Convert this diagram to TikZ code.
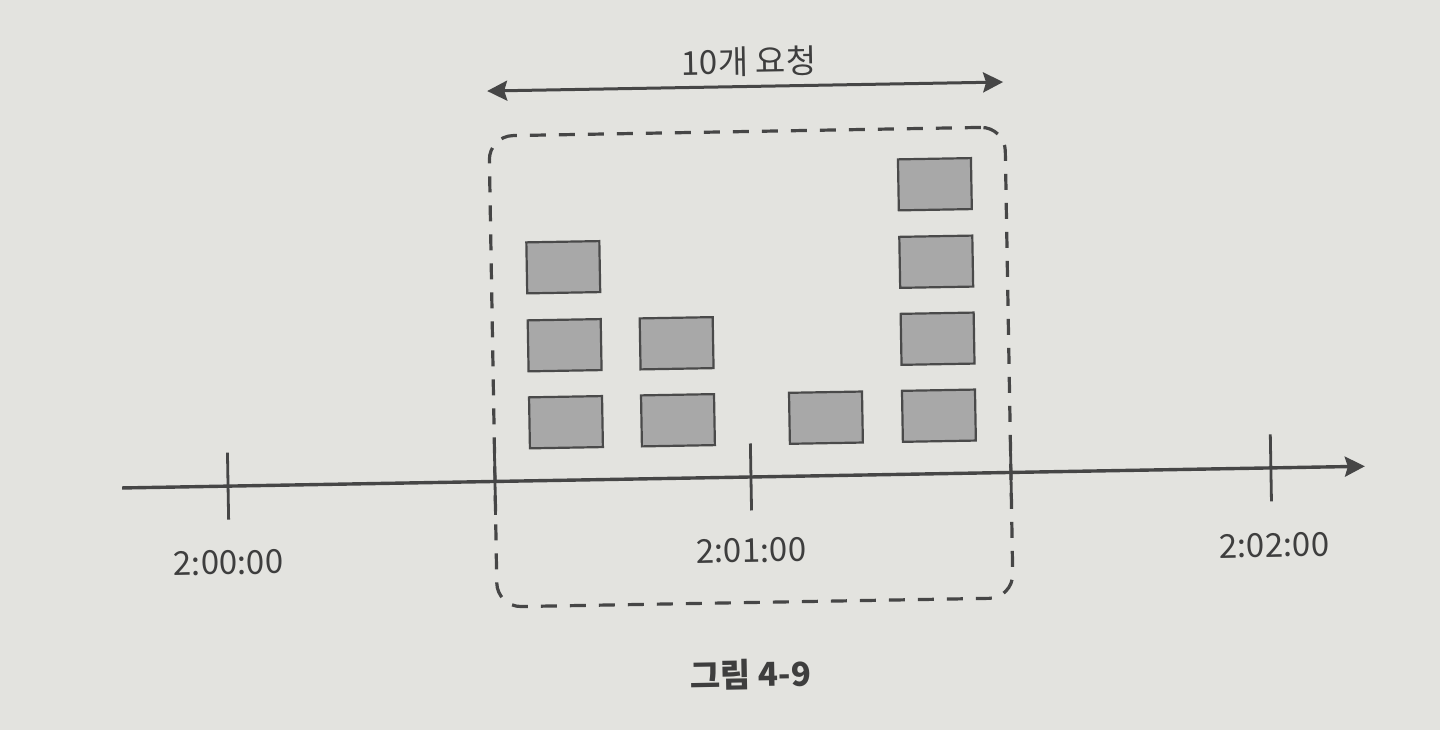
\documentclass[tikz,border=0pt]{standalone}
\usepackage{fontspec}
\setmainfont{Noto Sans CJK KR}
\usetikzlibrary{arrows.meta}
\definecolor{paper}{HTML}{E3E3DF}
\definecolor{ink}{HTML}{464646}
\definecolor{txt}{HTML}{3E3E3E}
\definecolor{boxfill}{HTML}{A8A8A8}
\definecolor{boxline}{HTML}{4A4A4A}
\tikzset{
  reqbox/.style={draw=boxline, fill=boxfill, line width=1.1pt, minimum width=36.5pt, minimum height=25.5pt, inner sep=0pt},
  axisline/.style={draw=ink, line width=1.7pt},
  tickline/.style={draw=ink, line width=1.4pt},
  windowbox/.style={draw=ink, line width=1.6pt, dash pattern=on 8pt off 6.5pt, rounded corners=12pt, minimum width=258pt, minimum height=235.5pt, inner sep=0pt},
  timelabel/.style={text=txt, font=\fontsize{16.5}{19}\selectfont, inner sep=0pt},
  tiphead/.tip={Stealth[length=10pt,width=10pt,inset=1.5pt]}
}
\begin{document}
\begin{tikzpicture}[x=0.5pt,y=-0.5pt]
\fill[paper] (0,0) rectangle (1440,730);
\useasboundingbox (0,0) rectangle (1440,730);
\begin{scope}[rotate around={1:(720,365)}, transform shape]
  % window
  \node[windowbox] (win) at (751,367.5) {};
  % axis
  \coordinate (axL) at (120,477.5);
  \coordinate (axR) at (1363,477.5);
  \draw[axisline, -{tiphead}] (axL) -- (axR);
  % ticks
  \foreach \n/\x in {t0/226, t1/493, t2/749, t3/1009, t4/1269}{
    \coordinate (\n a) at (\x,444);
    \coordinate (\n b) at (\x,511);
    \draw[tickline] (\n a) -- (\n b);
  }
  % labels
  \node[timelabel] (l0) at (225,554) {2:00:00};
  \node[timelabel] (l1) at (748,551) {2:01:00};
  \node[timelabel] (l2) at (1271,555) {2:02:00};
  % double arrow
  \coordinate (dL) at (492,87);
  \coordinate (dR) at (1008,87);
  \draw[axisline, line width=1.5pt, {tiphead}-{tiphead}] (dL) -- (dR);
  \node[timelabel] (cnt) at (754,62) {10개 요청};
  % requests
  \node[reqbox] (r1) at (565,264.5) {};
  \node[reqbox] (r2) at (565,342.5) {};
  \node[reqbox] (r3) at (565,419.5) {};
  \node[reqbox] (r4) at (677,342.5) {};
  \node[reqbox] (r5) at (677,419.5) {};
  \node[reqbox] (r6) at (825,419.5) {};
  \node[reqbox] (r7) at (938,188) {};
  \node[reqbox] (r8) at (938,265.5) {};
  \node[reqbox] (r9) at (938,342.5) {};
  \node[reqbox] (r10) at (938,419.5) {};
  % caption
  \node[timelabel, font=\fontsize{16.5}{19}\selectfont\bfseries] (cap) at (745,675) {그림 4-9};
\end{scope}
\end{tikzpicture}
\end{document}
